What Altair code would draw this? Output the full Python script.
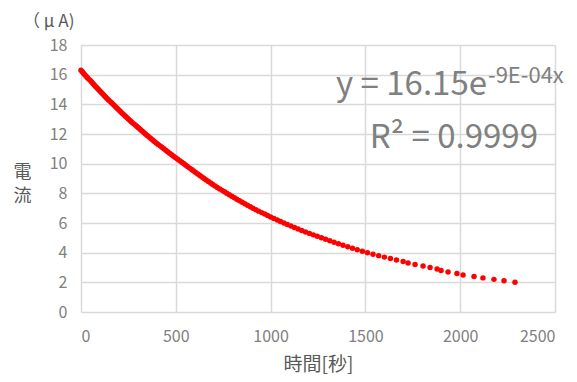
import altair as alt
import pandas as pd

# current readings (µA), one reading every 0.1 µA drop
current = [
    16.3, 16.2, 16.1, 16.0, 15.9, 15.8, 15.7, 15.6, 15.5, 15.4, 15.3, 15.2, 15.1, 15.0,
    14.9, 14.8, 14.7, 14.6, 14.5, 14.4, 14.3, 14.2, 14.1, 14.0,
    13.9, 13.8, 13.7, 13.6, 13.5, 13.4, 13.3, 13.2, 13.1, 13.0,
    12.9, 12.8, 12.7, 12.6, 12.5, 12.4, 12.3, 12.2, 12.1, 12.0,
    11.9, 11.8, 11.7, 11.6, 11.5, 11.4, 11.3, 11.2, 11.1, 11.0,
    10.9, 10.8, 10.7, 10.6, 10.5, 10.4, 10.3, 10.2, 10.1, 10.0,
    9.9, 9.8, 9.7, 9.6, 9.5, 9.4, 9.3, 9.2, 9.1, 9.0,
    8.9, 8.8, 8.7, 8.6, 8.5, 8.4, 8.3, 8.2, 8.1, 8.0,
    7.9, 7.8, 7.7, 7.6, 7.5, 7.4, 7.3, 7.2, 7.1, 7.0,
    6.9, 6.8, 6.7, 6.6, 6.5, 6.4, 6.3, 6.2, 6.1, 6.0,
    5.9, 5.8, 5.7, 5.6, 5.5, 5.4, 5.3, 5.2, 5.1, 5.0,
    4.9, 4.8, 4.7, 4.6, 4.5, 4.4, 4.3, 4.2, 4.1, 4.0,
    3.9, 3.8, 3.7, 3.6, 3.5, 3.4, 3.3, 3.2, 3.1, 3.0,
    2.9, 2.8, 2.7, 2.6, 2.5, 2.4, 2.3, 2.2, 2.1, 2.0,
]

# time (s) at which each reading was taken
time_s = [
    0, 7, 13, 20, 27, 34, 41, 49, 56, 63, 70, 77, 85, 92,
    100, 107, 115, 122, 130, 137, 145, 153, 161, 169,
    177, 185, 193, 201, 209, 217, 226, 234, 243, 251,
    260, 268, 277, 286, 295, 304, 313, 322, 331, 340,
    349, 359, 368, 378, 387, 397, 407, 417, 427, 437,
    447, 457, 467, 478, 488, 499, 510, 521, 532, 543,
    553, 563, 573, 584, 594, 605, 616, 627, 638, 649,
    660, 672, 684, 695, 707, 719, 732, 744, 757, 769,
    782, 795, 809, 822, 836, 850, 864, 878, 893, 907,
    922, 937, 953, 969, 984, 1000, 1017, 1035, 1052, 1070,
    1088, 1107, 1126, 1145, 1164, 1184, 1205, 1225, 1246, 1268,
    1290, 1312, 1335, 1358, 1382, 1407, 1432, 1457, 1484, 1511,
    1540, 1570, 1600, 1632, 1664, 1699, 1725, 1762, 1804, 1841,
    1878, 1899, 1936, 1983, 2015, 2073, 2120, 2178, 2231, 2289,
]

x_ticks = [0, 500, 1000, 1500, 2000, 2500]
y_ticks = [0, 2, 4, 6, 8, 10, 12, 14, 16, 18]

eq_main = "y = 16.15e"
eq_exp = "-9E-04x"
r2_text = "R² = 0.9999"
unit_text = "（ μ A)"

df = pd.DataFrame({"t": time_s, "i": current})

FONT = "Noto Sans CJK JP"
GRAY = "#808080"
DARK = "#595959"

points = alt.Chart(df).mark_circle(size=30, color="#ff0000", opacity=1).encode(
    x=alt.X(
        "t:Q",
        scale=alt.Scale(domain=[0, 2500], nice=False),
        axis=alt.Axis(
            values=x_ticks,
            format="d",
            title="時間[秒]",
            titleFont=FONT,
            titleFontSize=19,
            titleColor=DARK,
            titleFontWeight="normal",
            titleBaseline="top",
            titleY=43,
            labelFont=FONT,
            labelFontSize=16,
            labelColor=GRAY,
            labelPadding=16,
            grid=True,
            gridColor="#d9d9d9",
            gridWidth=1.5,
            domain=False,
            ticks=False,
        ),
    ),
    y=alt.Y(
        "i:Q",
        scale=alt.Scale(domain=[0, 18], nice=False),
        axis=alt.Axis(
            values=y_ticks,
            title=["電", "流"],
            titleAngle=0,
            titleFont=FONT,
            titleFontSize=18,
            titleColor=DARK,
            titleFontWeight="normal",
            titleAlign="center",
            titleBaseline="top",
            titleX=-59,
            titleY=118,
            titleLineHeight=24,
            labelFont=FONT,
            labelFontSize=16,
            labelColor=GRAY,
            labelPadding=14,
            grid=True,
            gridColor="#d9d9d9",
            gridWidth=1.5,
            domain=False,
            ticks=False,
        ),
    ),
)

txt_main = alt.Chart(pd.DataFrame({"s": [eq_main]})).mark_text(
    font=FONT, fontSize=33, color=GRAY, align="right", baseline="alphabetic"
).encode(text="s:N", x=alt.value(406), y=alt.value(50))

txt_exp = alt.Chart(pd.DataFrame({"s": [eq_exp]})).mark_text(
    font=FONT, fontSize=22, color=GRAY, align="left", baseline="alphabetic"
).encode(text="s:N", x=alt.value(407), y=alt.value(38))

txt_r2 = alt.Chart(pd.DataFrame({"s": [r2_text]})).mark_text(
    font=FONT, fontSize=33, color=GRAY, align="right", baseline="alphabetic"
).encode(text="s:N", x=alt.value(457), y=alt.value(103))

txt_unit = alt.Chart(pd.DataFrame({"s": [unit_text]})).mark_text(
    font=FONT, fontSize=17, color=DARK, align="left", baseline="middle"
).encode(text="s:N", x=alt.value(-58), y=alt.value(-23))

chart = (
    alt.layer(points, txt_main, txt_exp, txt_r2, txt_unit)
    .properties(
        width=474,
        height=267,
        autosize=alt.AutoSizeParams(type="none"),
        padding={"left": 73, "top": 37, "right": 14, "bottom": 62},
    )
    .configure_view(stroke=None)
)

chart.save("out.html", embed_options={"renderer": "svg", "actions": False})
